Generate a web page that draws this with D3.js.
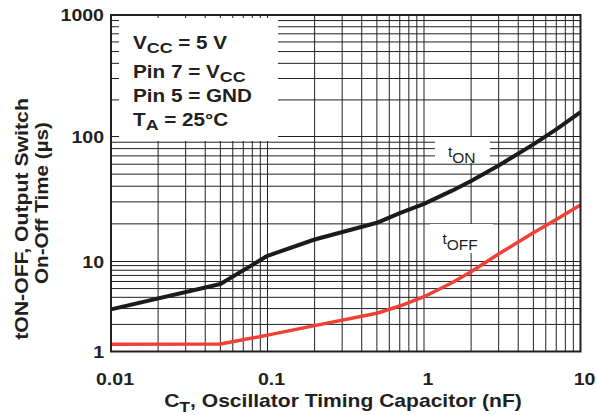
<!DOCTYPE html>
<html>
<head>
<meta charset="utf-8">
<script src="https://cdn.jsdelivr.net/npm/d3@7"></script>
<style>
  html, body { margin: 0; padding: 0; background: #fff; }
  svg { display: block; }
  text { font-family: "Liberation Sans", Arial, Helvetica, sans-serif; fill: #231f20; }
</style>
</head>
<body>
<svg id="chart" width="598" height="415"></svg>
<script>
// ---- data ----
const xTickValues = [0.01, 0.1, 1, 10];
const xTickLabels = ["0.01", "0.1", "1", "10"];
const yTickValues = [1, 10, 100, 1000];
const yTickLabels = ["1", "10", "100", "1000"];

const capacitance = [0.01, 0.05, 0.1, 0.2, 0.5, 0.7, 1, 1.5, 2, 3, 5, 7, 10];
const tOn  = [2.94, 5.62, 11.1, 15.0, 20.4, 24.4, 28.9, 36.7, 44.0, 58.6, 86.5, 114.6, 159];
const tOff = [1.20, 1.21, 1.52, 1.94, 2.66, 3.2, 4.06, 5.77, 7.7, 11.5, 17.0, 21.7, 28.3];

const seriesNames = ["ON", "OFF"];
const seriesColors = ["#1c1a1b", "#ef4136"];

const infoLines = [
  [["V", 0], ["CC", 1], [" = 5 V", 0]],
  [["Pin 7 = V", 0], ["CC", 1]],
  [["Pin 5 = GND", 0]],
  [["T", 0], ["A", 1], [" = 25\u00B0C", 0]]
];
const xTitle = [["C", 0], ["T", 1], [", Oscillator Timing Capacitor (nF)", 0]];
const yTitle1 = "tON-OFF, Output Switch";
const yTitle2 = "On-Off Time (\u00B5s)";

// ---- layout ----
const svg = d3.select("#chart");
const L = 111, R = 580.5, T = 15, B = 351.5;
const ink = "#231f20";

const x = d3.scaleLog().domain([xTickValues[0], xTickValues[xTickValues.length - 1]]).range([L, R]);
// piecewise log scale to follow the reference's decade positions
const y = d3.scaleLog().domain(yTickValues).range([B, 261.5, 136.5, T]);

// minor+major grid values
const xGrid = [];
xTickValues.slice(0, -1).forEach(d => d3.range(1, 10).forEach(k => xGrid.push(d * k)));
xGrid.push(xTickValues[xTickValues.length - 1]);
const yGrid = [];
yTickValues.slice(0, -1).forEach(d => d3.range(1, 10).forEach(k => yGrid.push(d * k)));
yGrid.push(yTickValues[yTickValues.length - 1]);

const grid = svg.append("g").attr("stroke", ink).attr("stroke-width", 1);
grid.selectAll("line.v").data(xGrid).join("line")
  .attr("x1", d => x(d)).attr("x2", d => x(d)).attr("y1", T).attr("y2", B);
grid.selectAll("line.h").data(yGrid).join("line")
  .attr("y1", d => y(d)).attr("y2", d => y(d)).attr("x1", L).attr("x2", R);

// white annotation boxes
svg.append("rect").attr("x", 119).attr("y", 18).attr("width", 159).attr("height", 123).attr("fill", "#fff");
svg.append("rect").attr("x", 435).attr("y", 137).attr("width", 55).attr("height", 26).attr("fill", "#fff");
svg.append("rect").attr("x", 430).attr("y", 224).attr("width", 63).attr("height", 29).attr("fill", "#fff");

// curves
const line = d3.line().x(d => x(d[0])).y(d => y(d[1])).curve(d3.curveLinear);
[tOn, tOff].forEach((vals, i) => {
  svg.append("path")
    .datum(capacitance.map((c, j) => [c, vals[j]]))
    .attr("d", line)
    .attr("fill", "none")
    .attr("stroke", seriesColors[i])
    .attr("stroke-width", i === 0 ? 4 : 3.5)
    .attr("stroke-linejoin", "round");
});

// frame
svg.append("rect").attr("x", L).attr("y", T).attr("width", R - L).attr("height", B - T)
  .attr("fill", "none").attr("stroke", ink).attr("stroke-width", 2);

// helper for horizontally stretched text
function stretched(px, py, sx, opts) {
  return svg.append("text")
    .attr("transform", `translate(${px},${py})${opts.rotate ? " rotate(-90)" : ""} scale(${sx},1)`)
    .attr("text-anchor", opts.anchor || "start")
    .attr("font-weight", opts.weight || "bold")
    .attr("font-size", opts.size);
}
function addRuns(t, runs, subSize, subDy) {
  runs.forEach(([s, sub], i) => {
    const prevSub = i > 0 ? runs[i - 1][1] : 0;
    const ts = t.append("tspan").text(s);
    if (sub) ts.attr("font-size", subSize).attr("dy", subDy);
    else if (prevSub) ts.attr("dy", -subDy);
  });
}

// y tick labels
yTickValues.forEach((v, i) => {
  stretched(104, y(v) + 6, 1.15, { anchor: "end", size: 17 }).text(yTickLabels[i]);
});
// x tick labels
xTickValues.forEach((v, i) => {
  stretched(x(v) + 4, 385, 1.15, { anchor: "middle", size: 17 }).text(xTickLabels[i]);
});

// axis titles
addRuns(stretched(343, 407, 1.17, { anchor: "middle", size: 18 }), xTitle, 15, 5);
stretched(28, 219, 1.18, { anchor: "middle", size: 18, rotate: true }).text(yTitle1);
stretched(48, 203, 1.15, { anchor: "middle", size: 18, rotate: true }).text(yTitle2);

// info box text
const infoBase = [48.5, 78, 102, 126];
infoLines.forEach((runs, i) => {
  addRuns(stretched(133, infoBase[i], 1.15, { size: 18 }), runs, 15.5, 4);
});

// series labels
[[448, 157], [442.5, 244]].forEach(([lx, ly], i) => {
  const t = stretched(lx, ly, 1, { size: 15.5, weight: "normal" });
  t.append("tspan").text("t");
  t.append("tspan").attr("dy", 5.5).text(seriesNames[i]);
});
</script>
</body>
</html>
